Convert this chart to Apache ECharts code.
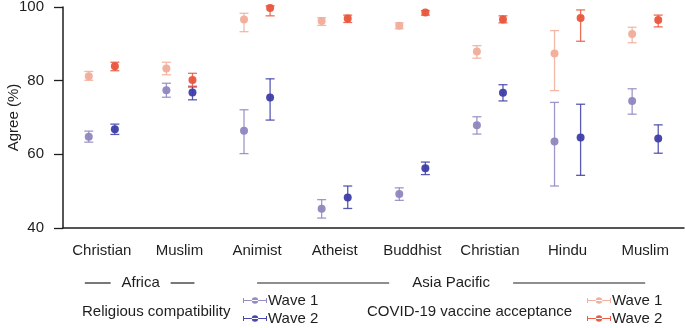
<!DOCTYPE html>
<html>
<head>
<meta charset="utf-8">
<script src="https://cdn.jsdelivr.net/npm/echarts@6/dist/echarts.min.js"></script>
<style>
  html, body { margin: 0; padding: 0; background: #fff; }
  #chart { width: 685px; height: 328px; }
</style>
</head>
<body>
<div id="chart"></div>
<script>
// Religion categories along the x axis
const categories = ['Christian', 'Muslim', 'Animist', 'Atheist', 'Buddhist', 'Christian', 'Hindu', 'Muslim'];

// Regions grouping the categories (first and last category index)
const groupNames = ['Africa', 'Asia Pacific'];
const groupStart = [0, 2];
const groupEnd = [1, 7];

// Religious compatibility, wave 1: estimate and interval
const relW1 = [64.8, 77.4, 66.4, 45.2, 49.2, 67.9, 63.5, 74.5];
const relW1Low = [63.3, 75.5, 60.2, 42.7, 47.5, 65.5, 51.4, 70.9];
const relW1High = [66.3, 79.3, 72.1, 47.7, 50.9, 70.2, 74.1, 77.8];

// Religious compatibility, wave 2
const relW2 = [66.8, 76.8, 75.4, 48.3, 56.2, 76.7, 64.6, 64.3];
const relW2Low = [65.4, 74.8, 69.3, 45.3, 54.5, 74.5, 54.3, 60.3];
const relW2High = [68.2, 78.3, 80.5, 51.4, 57.9, 78.9, 73.6, 68.0];

// COVID-19 vaccine acceptance, wave 1
const vacW1 = [81.2, 83.3, 96.6, 96.2, 94.9, 87.9, 87.4, 92.7];
const vacW1Low = [80.1, 81.6, 93.3, 95.0, 94.1, 86.1, 77.3, 90.3];
const vacW1High = [82.5, 85.0, 98.3, 97.1, 95.7, 89.5, 93.6, 94.5];

// COVID-19 vaccine acceptance, wave 2
const vacW2 = [83.9, 80.2, 99.7, 96.9, 98.5, 96.6, 97.0, 96.5];
const vacW2Low = [82.7, 78.5, 97.6, 95.8, 97.8, 95.7, 90.7, 94.6];
const vacW2High = [85.0, 82.0, 100.3, 97.8, 99.0, 97.6, 99.2, 97.8];

// Y axis ticks
const yTicks = [40, 60, 80, 100];

const FONT = '"Liberation Sans", Arial, Helvetica, sans-serif';
const TEXT = '#1e1e1e';
const WAVE_SHIFT = 0.168; // horizontal dodge of each wave within a category

const colors = {
  relW1: '#8f86be',
  relW2: '#3d3da8',
  vacW1: '#f1ad99',
  vacW2: '#e9553c'
};

function points(vals, shift) {
  return vals.map((v, i) => [i + shift, v]);
}
function bars(lo, hi, shift) {
  return lo.map((l, i) => [i + shift, l, hi[i]]);
}

function errorBarRenderer(color) {
  return function (params, api) {
    const x = api.value(0);
    const lo = api.coord([x, api.value(1)]);
    const hi = api.coord([x, api.value(2)]);
    const hw = 4.5;
    const style = { stroke: color, lineWidth: 1.3, opacity: 0.85 };
    return {
      type: 'group',
      children: [
        { type: 'line', shape: { x1: lo[0], y1: lo[1], x2: hi[0], y2: hi[1] }, style },
        { type: 'line', shape: { x1: lo[0] - hw, y1: lo[1], x2: lo[0] + hw, y2: lo[1] }, style },
        { type: 'line', shape: { x1: hi[0] - hw, y1: hi[1], x2: hi[0] + hw, y2: hi[1] }, style }
      ]
    };
  };
}

const seriesDefs = [
  { key: 'relW1', name: 'Religious compatibility Wave 1', vals: relW1, lo: relW1Low, hi: relW1High, shift: -WAVE_SHIFT },
  { key: 'relW2', name: 'Religious compatibility Wave 2', vals: relW2, lo: relW2Low, hi: relW2High, shift: WAVE_SHIFT },
  { key: 'vacW1', name: 'COVID-19 vaccine acceptance Wave 1', vals: vacW1, lo: vacW1Low, hi: vacW1High, shift: -WAVE_SHIFT },
  { key: 'vacW2', name: 'COVID-19 vaccine acceptance Wave 2', vals: vacW2, lo: vacW2Low, hi: vacW2High, shift: WAVE_SHIFT }
];

const series = [];
seriesDefs.forEach(d => {
  series.push({
    type: 'custom',
    name: d.name + ' interval',
    xAxisIndex: 1,
    yAxisIndex: 0,
    clip: false,
    silent: true,
    z: 2,
    renderItem: errorBarRenderer(colors[d.key]),
    data: bars(d.lo, d.hi, d.shift)
  });
});
seriesDefs.forEach(d => {
  series.push({
    type: 'scatter',
    name: d.name,
    xAxisIndex: 1,
    yAxisIndex: 0,
    symbol: 'circle',
    symbolSize: 8,
    z: 3,
    itemStyle: { color: colors[d.key], opacity: 0.95 },
    data: points(d.vals, d.shift)
  });
});

// legend glyph: short line with a dot in the middle and small end caps
const legendIcon = 'path://M0,3.4h24v1.2h-24z M0,1.5h1v5h-1z M23,1.5h1v5h-1z M12,0.8a3.2,3.2 0 1,0 0.01,0z';

function waveLegend(names, left) {
  return {
    data: names,
    orient: 'vertical',
    left: left,
    top: 293,
    itemWidth: 24,
    itemHeight: 8,
    itemGap: 3,
    icon: legendIcon,
    selectedMode: false,
    padding: 0,
    formatter: n => n.replace(/^.* (Wave \d)$/, '$1'),
    textStyle: { fontFamily: FONT, fontSize: 15, color: TEXT, padding: [0, 0, 0, -4] }
  };
}

const chart = echarts.init(document.getElementById('chart'), null, { renderer: 'canvas' });

chart.setOption({
  animation: false,
  backgroundColor: '#ffffff',
  grid: { left: 63, right: 1, top: 7, bottom: 100, containLabel: false, outerBoundsMode: 'none' },
  xAxis: [
    {
      type: 'category',
      data: categories,
      boundaryGap: true,
      axisLine: { onZero: false, lineStyle: { color: TEXT, width: 1.5 } },
      axisTick: { alignWithLabel: true, length: 8, lineStyle: { color: TEXT, width: 1.3 } },
      axisLabel: { fontFamily: FONT, fontSize: 15, color: TEXT, margin: 15, interval: 0 },
      splitLine: { show: false }
    },
    {
      type: 'value',
      min: -0.5,
      max: categories.length - 0.5,
      show: false
    }
  ],
  yAxis: {
    type: 'value',
    min: yTicks[0],
    max: yTicks[yTicks.length - 1],
    interval: 20,
    name: 'Agree (%)',
    nameLocation: 'middle',
    nameGap: 42,
    nameMoveOverlap: false,
    nameTextStyle: { fontFamily: FONT, fontSize: 15, color: TEXT },
    axisLine: { show: true, onZero: false, lineStyle: { color: TEXT, width: 1.5 } },
    axisTick: { show: true, length: 9, lineStyle: { color: TEXT, width: 1.3 } },
    axisLabel: { fontFamily: FONT, fontSize: 15, color: TEXT, margin: 19 },
    splitLine: { show: false }
  },
  legend: [
    waveLegend(['Religious compatibility Wave 1', 'Religious compatibility Wave 2'], 243),
    waveLegend(['COVID-19 vaccine acceptance Wave 1', 'COVID-19 vaccine acceptance Wave 2'], 587)
  ],
  series: series
});

// Region brackets under the category labels, placed from the axis scale
const GROUP_Y = 283;
const groupPad = [[17, 15], [0, 0]];     // extension beyond the outer ticks
const groupGap = [10, 22];               // gap between the label and each rule
const groupTextWidth = [40, 80];
const graphics = [];
groupNames.forEach((g, k) => {
  const x0 = chart.convertToPixel({ xAxisIndex: 1 }, groupStart[k]) - groupPad[k][0];
  const x1 = chart.convertToPixel({ xAxisIndex: 1 }, groupEnd[k]) + groupPad[k][1];
  const cx = (chart.convertToPixel({ xAxisIndex: 1 }, groupStart[k]) + chart.convertToPixel({ xAxisIndex: 1 }, groupEnd[k])) / 2;
  const half = groupTextWidth[k] / 2 + groupGap[k];
  graphics.push({
    type: 'line', silent: true,
    shape: { x1: x0, y1: GROUP_Y, x2: cx - half, y2: GROUP_Y },
    style: { stroke: TEXT, lineWidth: 1.2 }
  });
  graphics.push({
    type: 'line', silent: true,
    shape: { x1: cx + half, y1: GROUP_Y, x2: x1, y2: GROUP_Y },
    style: { stroke: TEXT, lineWidth: 1.2 }
  });
  graphics.push({
    type: 'text', silent: true, x: cx, y: GROUP_Y,
    style: { text: g, fill: TEXT, font: '15px ' + FONT, textAlign: 'center', textVerticalAlign: 'middle' }
  });
});
// measure-group titles beside each legend
graphics.push({
  type: 'text', silent: true, x: 82, y: 312,
  style: { text: 'Religious compatibility', fill: TEXT, font: '15px ' + FONT, textAlign: 'left', textVerticalAlign: 'middle' }
});
graphics.push({
  type: 'text', silent: true, x: 367, y: 312,
  style: { text: 'COVID-19 vaccine acceptance', fill: TEXT, font: '15px ' + FONT, textAlign: 'left', textVerticalAlign: 'middle' }
});
chart.setOption({ graphic: graphics });
</script>
</body>
</html>
